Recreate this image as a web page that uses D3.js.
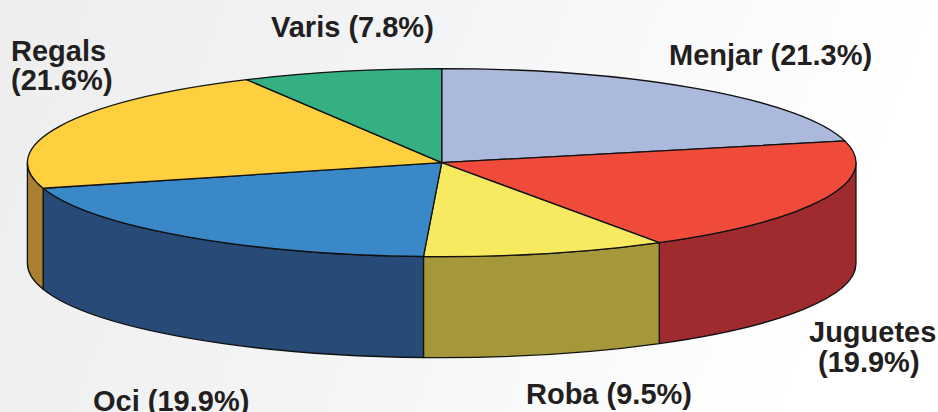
<!DOCTYPE html>
<html>
<head>
<meta charset="utf-8">
<script src="https://cdn.jsdelivr.net/npm/d3@7"></script>
<style>
  html, body { margin: 0; padding: 0; background: #fff; overflow: hidden; }
  text { font-family: "Liberation Sans", Arial, sans-serif; font-weight: bold; font-size: 29px; fill: #231f20; }
</style>
</head>
<body>
<svg id="chart" width="938" height="412"></svg>
<script>
const categories = ["Menjar", "Juguetes", "Roba", "Oci", "Regals", "Varis"];
const shares = [21.3, 19.9, 9.5, 19.9, 21.6, 7.8];
const topColors = ["#aab9dc", "#f04b3a", "#f8ea60", "#3a88c8", "#fed03f", "#35b082"];
const sideColors = ["#6f7c9c", "#a02b2e", "#a5983b", "#274b76", "#a88030", "#23785a"];

const width = 938;
const height = 412;
const cx = 441.7;
const cy = 162.6;
const rx = 414.3;
const ry = 94;
const depth = 101;

const svg = d3.select("#chart");

// background fades from light grey on the left to white on the right
const grad = svg.append("defs").append("linearGradient")
  .attr("id", "bg")
  .attr("gradientUnits", "userSpaceOnUse")
  .attr("x1", 0).attr("y1", 60)
  .attr("x2", 800).attr("y2", 360);
grad.append("stop").attr("offset", 0).attr("stop-color", "#eeeeef");
grad.append("stop").attr("offset", 0.45).attr("stop-color", "#f3f4f5");
grad.append("stop").attr("offset", 1).attr("stop-color", "#ffffff");

svg.append("rect")
  .attr("width", width)
  .attr("height", height)
  .attr("fill", "url(#bg)");

const pie = d3.pie().sort(null).value((d) => d.share);
const slices = pie(categories.map((name, i) => ({ name, share: shares[i], i })));

const ptX = (a) => cx + rx * Math.sin(a);
const ptY = (a) => cy - ry * Math.cos(a);

// only the front half of the rim can be seen
const sidePath = (d) => {
  const a0 = Math.max(d.startAngle, Math.PI / 2);
  const a1 = Math.min(d.endAngle, Math.PI * 1.5);
  if (a1 <= a0) return null;
  return `M${ptX(a0)},${ptY(a0)}`
    + `A${rx},${ry} 0 0 1 ${ptX(a1)},${ptY(a1)}`
    + `L${ptX(a1)},${ptY(a1) + depth}`
    + `A${rx},${ry} 0 0 0 ${ptX(a0)},${ptY(a0) + depth}Z`;
};

svg.append("g")
  .selectAll("path.side")
  .data(slices.filter((d) => sidePath(d)))
  .join("path")
  .attr("class", "side")
  .attr("d", sidePath)
  .attr("fill", (d) => sideColors[d.data.i])
  .attr("stroke", "#111")
  .attr("stroke-width", 1.3)
  .attr("stroke-linejoin", "round");

const arc = d3.arc().innerRadius(0).outerRadius(rx);

svg.append("g")
  .attr("transform", `translate(${cx},${cy}) scale(1,${ry / rx})`)
  .selectAll("path.top")
  .data(slices)
  .join("path")
  .attr("class", "top")
  .attr("d", arc)
  .attr("fill", (d) => topColors[d.data.i])
  .attr("stroke", "#111")
  .attr("stroke-width", 1.3)
  .attr("stroke-linejoin", "round")
  .attr("vector-effect", "non-scaling-stroke");

// label placement, same order as categories
const labelPos = [
  { x: 669, y: 65 },
  { x: 809, y: 342, pctX: 818, lead: 30 },
  { x: 526, y: 404 },
  { x: 93, y: 411 },
  { x: 11, y: 61, pctX: 11, lead: 29 },
  { x: 271, y: 37 },
];

const labels = svg.append("g")
  .selectAll("text")
  .data(slices)
  .join("text")
  .attr("x", (d) => labelPos[d.data.i].x)
  .attr("y", (d) => labelPos[d.data.i].y);

labels.each(function (d) {
  const pos = labelPos[d.data.i];
  const pct = `(${d.data.share.toFixed(1)}%)`;
  const t = d3.select(this);
  if (pos.lead) {
    t.append("tspan").text(d.data.name);
    t.append("tspan").attr("x", pos.pctX).attr("dy", pos.lead).text(pct);
  } else {
    t.text(`${d.data.name} ${pct}`);
  }
});
</script>
</body>
</html>
